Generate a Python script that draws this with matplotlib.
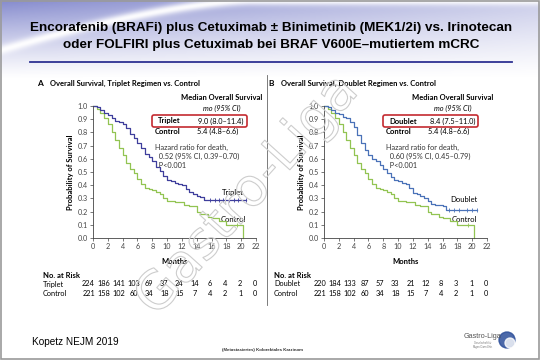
import numpy as np
import matplotlib.pyplot as plt
from matplotlib.patches import FancyBboxPatch, Rectangle, Circle
from matplotlib.transforms import blended_transform_factory
import matplotlib.patheffects as pe

# Kaplan-Meier curves (months, probability of survival)
triplet_t = [0, 0.5, 1, 1.5, 2, 2.5, 3, 3.5, 4, 4.5, 5, 5.5, 6, 6.5, 7, 7.5, 8, 8.5, 9, 9.5,
             10, 10.5, 11, 11.5, 12, 12.5, 13, 13.5, 14, 14.5, 15, 15.5, 20.6]
triplet_s = [1.0, 0.99, 0.97, 0.95, 0.93, 0.91, 0.89, 0.88, 0.86, 0.83, 0.79, 0.76, 0.72, 0.68,
             0.64, 0.61, 0.58, 0.54, 0.51, 0.47, 0.44, 0.43, 0.42, 0.41, 0.40, 0.37, 0.35, 0.33,
             0.32, 0.31, 0.29, 0.285, 0.285]
triplet_cens = [15.8, 16.4, 17.0, 17.6, 18.3, 19.0, 19.6, 20.6]

doublet_t = [0, 0.5, 1, 1.5, 2, 2.5, 3, 3.5, 4, 4.5, 5, 5.5, 6, 6.5, 7, 7.5, 8, 8.5, 9, 9.5,
             10, 10.5, 11, 11.5, 12, 12.5, 13, 13.5, 14, 14.5, 15, 16, 16.5, 20.7]
doublet_s = [1.0, 0.99, 0.97, 0.95, 0.94, 0.92, 0.91, 0.88, 0.84, 0.78, 0.72, 0.67, 0.63, 0.60,
             0.58, 0.55, 0.52, 0.49, 0.46, 0.44, 0.43, 0.42, 0.41, 0.38, 0.34, 0.33, 0.32, 0.30,
             0.28, 0.26, 0.25, 0.24, 0.215, 0.215]
doublet_cens = [16.9, 17.5, 18.2, 19.3, 20.0, 20.7]

control_t = [0, 0.5, 1, 1.5, 2, 2.5, 3, 3.5, 4, 4.5, 5, 5.5, 6, 6.5, 7, 7.5, 8, 8.5, 9, 9.5,
             10, 11, 12, 12.3, 13, 14, 14.5, 15.5, 16, 17, 18, 20.3, 20.3]
control_s = [1.0, 0.98, 0.95, 0.91, 0.86, 0.80, 0.74, 0.68, 0.63, 0.57, 0.52, 0.49, 0.45, 0.41,
             0.38, 0.37, 0.36, 0.35, 0.33, 0.30, 0.28, 0.27, 0.27, 0.25, 0.24, 0.20, 0.18, 0.16,
             0.15, 0.13, 0.10, 0.10, 0.0]
control_cens = [19.4]

risk_months = [0, 2, 4, 6, 8, 10, 12, 14, 16, 18, 20, 22]
risk_triplet = [224, 186, 141, 103, 69, 37, 24, 14, 6, 4, 2, 0]
risk_doublet = [220, 184, 133, 87, 57, 33, 21, 12, 8, 3, 1, 0]
risk_control = [221, 158, 102, 60, 34, 18, 15, 7, 4, 2, 1, 0]

col_triplet = '#3e3e9c'
col_doublet = '#4a72b8'
col_control = '#92c452'
col_red = '#c42a30'
FONT = 'Lato'

fig = plt.figure(figsize=(5.4, 3.6), dpi=100)

# background axes in pixel coordinates
bg = fig.add_axes([0, 0, 1, 1])
bg.set_xlim(0, 540)
bg.set_ylim(360, 0)
bg.axis('off')

# top swoosh gradient
yy, xx = np.mgrid[0:80, 0:540]
alpha = np.clip(1 - yy / 78.0, 0, 1) ** 1.2 * (0.8 - 0.45 * xx / 540)
ys = 50 * np.clip(1 - xx / 250.0, 0, 1) ** 1.5
alpha = alpha * (1 - 0.95 * np.exp(-((yy - ys) / 5.0) ** 2))
img = np.zeros((80, 540, 4))
img[..., 0], img[..., 1], img[..., 2] = 0.40, 0.43, 0.76
img[..., 3] = alpha
bg.imshow(img, extent=(0, 540, 80, 0), aspect='auto', zorder=0)

bg.add_patch(Rectangle((1, 1), 537.5, 357.5, fill=False, ec='#9a9a9a', lw=1.2))
bg.text(271, 28, 'Encorafenib (BRAFi) plus Cetuximab \u00b1 Binimetinib (MEK1/2i) vs. Irinotecan',
        ha='center', va='center', fontsize=9.7, fontweight='bold', family='Liberation Sans')
bg.text(271, 45, 'oder FOLFIRI plus Cetuximab bei BRAF V600E\u2013mutiertem mCRC',
        ha='center', va='center', fontsize=9.7, fontweight='bold', family='Liberation Sans')
bg.plot([30, 512], [62, 62], color='#2e3192', lw=1.3)
bg.plot([267, 267], [75, 305], color='#666666', lw=0.6)

bg.text(32, 342, 'Kopetz NEJM 2019', ha='left', va='center', fontsize=7.2, family='Liberation Sans')
bg.text(262, 350, '(Metastasiertes) Kolorektales Karzinom', ha='center', va='center',
        fontsize=3.2, fontweight='bold', family='Liberation Sans', color='#333333')
bg.text(483, 337, 'Gastro-Liga', ha='center', va='center', fontsize=5.2,
        family='Liberation Sans', color='#555555')
bg.text(483, 345, 'Gesellschaft f\u00fcr\nMagen-Darm-Erkr.', ha='center', va='center',
        fontsize=1.8, family='Liberation Sans', color='#777777', linespacing=1.0)
bg.add_patch(Circle((507, 340), 8, color='#2d4f9a', alpha=0.85))
bg.add_patch(Circle((510, 343), 5, color='#ffffff', alpha=0.8))


def survival_at(t, s, times):
    idx = np.searchsorted(t, times, side='right') - 1
    return np.asarray(s)[idx]


def panel(left_px, letter, title, arm, arm_t, arm_s, arm_cens, arm_col, arm_med, hr,
          risk_arm, arm_lab_y):
    ax = fig.add_axes([left_px / 540, 1 - 238 / 360, 163 / 540, 132 / 360])
    ax.patch.set_alpha(0)
    for t, s, c, col in [(control_t, control_s, control_cens, col_control),
                         (arm_t, arm_s, arm_cens, arm_col)]:
        ax.step(t, s, where='post', color=col, lw=0.9, clip_on=False)
        ax.plot(c, survival_at(t, s, c), '|', color=col, ms=2.5, mew=0.6, clip_on=False)
    ax.set_xlim(0, 22)
    ax.set_ylim(0, 1.0)
    ax.set_xticks(np.arange(0, 23, 2))
    ax.set_yticks(np.arange(0, 1.01, 0.1))
    ax.set_yticklabels(['%.1f' % v for v in np.arange(0, 1.01, 0.1)])
    for sp in ['top', 'right']:
        ax.spines[sp].set_visible(False)
    for sp in ['left', 'bottom']:
        ax.spines[sp].set_linewidth(0.6)
        ax.spines[sp].set_color('#444444')
    ax.tick_params(length=2, width=0.5, pad=1.5, labelsize=5.2, colors='#444444')
    for lab in ax.get_xticklabels() + ax.get_yticklabels():
        lab.set_family(FONT)
    ax.set_ylabel('Probability of Survival', fontsize=5.5, fontweight='bold', family=FONT,
                  labelpad=3)

    ox = left_px - 93
    bg.text(37 + ox, 83, letter, fontsize=6, fontweight='bold', family=FONT, va='center')
    bg.text(50 + ox, 83, title, fontsize=5.5, fontweight='bold', family=FONT, va='center')
    bg.text(222 + ox, 98, 'Median Overall Survival', fontsize=5.5, fontweight='bold',
            family=FONT, ha='center', va='center')
    bg.text(222 + ox, 108, 'mo (95% CI)', fontsize=5.3, style='italic', family=FONT,
            ha='center', va='center')
    bg.text(155 + ox, 131, 'Control', fontsize=5.5, fontweight='bold', family=FONT, va='center')
    bg.text(238 + ox, 131, '5.4 (4.8\u20136.6)', fontsize=5.3, family=FONT, ha='right',
            va='center')
    bg.add_patch(FancyBboxPatch((152 + ox, 115), 95, 12, boxstyle='round,pad=0,rounding_size=2',
                                fc='white', ec=col_red, lw=1.2, zorder=3))
    bg.text(158 + ox, 121, arm, fontsize=5.5, fontweight='bold', family=FONT, va='center',
            zorder=4)
    bg.text(244 + ox, 121, arm_med, fontsize=5.3, family=FONT, ha='right', va='center',
            zorder=4)
    bg.text(155 + ox, 144, 'Hazard ratio for death,\n  %s\n  P<0.001' % hr, fontsize=5.3,
            family=FONT, va='top', linespacing=1.35, color='#333333')
    bg.text(233 + ox, arm_lab_y, arm, fontsize=5.5, family=FONT, ha='center', va='center')
    bg.text(233 + ox, 219, 'Control', fontsize=5.5, family=FONT, ha='center', va='center')

    bg.text(175 + ox, 261, 'Months', fontsize=5.5, fontweight='bold', family=FONT,
            ha='center', va='center')
    bg.text(43 + ox, 276, 'No. at Risk', fontsize=5.5, fontweight='bold', family=FONT,
            va='center')
    bg.text(43 + ox, 284, arm, fontsize=5.3, family=FONT, va='center')
    bg.text(43 + ox, 293, 'Control', fontsize=5.3, family=FONT, va='center')
    tr = blended_transform_factory(ax.transData, bg.transData)
    for m, a, c in zip(risk_months, risk_arm, risk_control):
        xm = m - 0.6 + 0.5 * m / 22
        bg.text(xm, 284, str(a), transform=tr, fontsize=5.3, family=FONT, ha='center',
                va='center')
        bg.text(xm, 293, str(c), transform=tr, fontsize=5.3, family=FONT, ha='center',
                va='center')
    return ax


panel(93, 'A', 'Overall Survival, Triplet Regimen vs. Control', 'Triplet',
      triplet_t, triplet_s, triplet_cens, col_triplet, '9.0 (8.0\u201311.4)',
      '0.52 (95% CI, 0.39\u20130.70)', risk_triplet, 192)
panel(324, 'B', 'Overall Survival, Doublet Regimen vs. Control', 'Doublet',
      doublet_t, doublet_s, doublet_cens, col_doublet, '8.4 (7.5\u201311.0)',
      '0.60 (95% CI, 0.45\u20130.79)', risk_doublet, 199)

# watermark
fig.text(247, 195, 'Gastro-Liga', transform=bg.transData, fontsize=38, family='DejaVu Sans',
         rotation=48, ha='center', va='center', color=(1, 1, 1, 0), zorder=10,
         path_effects=[pe.Stroke(linewidth=0.8, foreground='#cdcdcd')])

fig.savefig('out.png', dpi=100)
